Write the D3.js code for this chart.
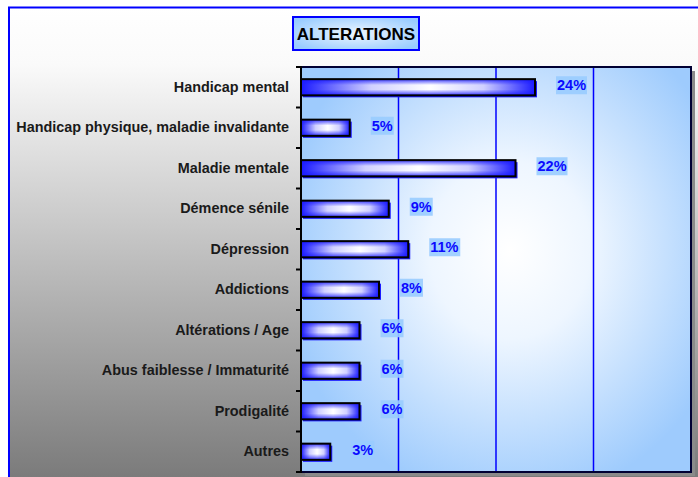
<!DOCTYPE html>
<html>
<head>
<meta charset="utf-8">
<script src="https://cdn.jsdelivr.net/npm/d3@7"></script>
<style>
  html, body { margin: 0; padding: 0; background: #ffffff; }
  svg { display: block; font-family: Arial, "Liberation Sans", sans-serif; }
</style>
</head>
<body>
<svg id="chart" width="698" height="477"></svg>
<script>
// Répartition des altérations (en %)
const categories = [
  "Handicap mental",
  "Handicap physique, maladie invalidante",
  "Maladie mentale",
  "Démence sénile",
  "Dépression",
  "Addictions",
  "Altérations / Age",
  "Abus faiblesse / Immaturité",
  "Prodigalité",
  "Autres"
];
const values = [24, 5, 22, 9, 11, 8, 6, 6, 6, 3];
const gridTicks = [10, 20, 30];
const chartTitle = "ALTERATIONS";

const svg = d3.select("#chart");
const W = 698, H = 477;
const plot = { left: 301, top: 67, right: 691, bottom: 472 };

const defs = svg.append("defs");

// outer background: white at top fading to grey at the bottom
const bgGrad = defs.append("linearGradient").attr("id", "bgGrad")
  .attr("x1", 0).attr("y1", 0).attr("x2", 0).attr("y2", 1);
bgGrad.append("stop").attr("offset", 0).attr("stop-color", "#ffffff");
bgGrad.append("stop").attr("offset", 0.12).attr("stop-color", "#fafafa");
bgGrad.append("stop").attr("offset", 1).attr("stop-color", "#7b7b7b");

// plot area: light blue with a soft white glow
const plotGrad = defs.append("radialGradient").attr("id", "plotGrad")
  .attr("gradientUnits", "userSpaceOnUse")
  .attr("cx", 510).attr("cy", 250).attr("r", 230)
  .attr("gradientTransform", "translate(510,250) scale(1,1.1) translate(-510,-250)");
plotGrad.append("stop").attr("offset", 0).attr("stop-color", "#ffffff");
plotGrad.append("stop").attr("offset", 0.35).attr("stop-color", "#eef6ff");
plotGrad.append("stop").attr("offset", 1).attr("stop-color", "#9ecbfd");

// title box fill
const titleGrad = defs.append("radialGradient").attr("id", "titleGrad")
  .attr("cx", 0.5).attr("cy", 0.5).attr("r", 0.6);
titleGrad.append("stop").attr("offset", 0).attr("stop-color", "#eef6ff");
titleGrad.append("stop").attr("offset", 1).attr("stop-color", "#99ccff");

// bar fills: blue edges, bright centre
const barH = defs.append("linearGradient").attr("id", "barH")
  .attr("x1", 0).attr("y1", 0).attr("x2", 1).attr("y2", 0);
barH.append("stop").attr("offset", 0).attr("stop-color", "#1a1aff");
barH.append("stop").attr("offset", 0.3).attr("stop-color", "#d0d0ff");
barH.append("stop").attr("offset", 0.55).attr("stop-color", "#ffffff");
barH.append("stop").attr("offset", 0.78).attr("stop-color", "#d0d0ff");
barH.append("stop").attr("offset", 1).attr("stop-color", "#1a1aff");
const barV = defs.append("linearGradient").attr("id", "barV")
  .attr("x1", 0).attr("y1", 0).attr("x2", 0).attr("y2", 1);
barV.append("stop").attr("offset", 0).attr("stop-color", "#1a1aff").attr("stop-opacity", 0.85);
barV.append("stop").attr("offset", 0.36).attr("stop-color", "#1a1aff").attr("stop-opacity", 0);
barV.append("stop").attr("offset", 0.64).attr("stop-color", "#1a1aff").attr("stop-opacity", 0);
barV.append("stop").attr("offset", 1).attr("stop-color", "#1a1aff").attr("stop-opacity", 0.85);

// outer frame
svg.append("rect").attr("x", 9).attr("y", 8).attr("width", W - 9).attr("height", H - 8)
  .attr("fill", "url(#bgGrad)");
svg.append("line").attr("x1", 9).attr("x2", 9).attr("y1", 7).attr("y2", H)
  .attr("stroke", "#0000ff").attr("stroke-width", 2);
svg.append("line").attr("x1", 8).attr("x2", W).attr("y1", 7.5).attr("y2", 7.5)
  .attr("stroke", "#0000ff").attr("stroke-width", 2);

// scales
const x = d3.scaleLinear().domain([0, 40]).range([plot.left, plot.right]);
const y = d3.scaleBand().domain(categories)
  .range([plot.top, plot.bottom]).paddingInner(0.6).paddingOuter(0.3);

// plot shadow and background
svg.append("rect").attr("x", plot.left + 4).attr("y", plot.top + 4)
  .attr("width", plot.right - plot.left).attr("height", plot.bottom - plot.top)
  .attr("fill", "#8a8a8a");
svg.append("rect").attr("x", plot.left).attr("y", plot.top)
  .attr("width", plot.right - plot.left).attr("height", plot.bottom - plot.top)
  .attr("fill", "url(#plotGrad)");

// vertical gridlines
svg.append("g").selectAll("line").data(gridTicks).join("line")
  .attr("x1", d => x(d)).attr("x2", d => x(d))
  .attr("y1", plot.top).attr("y2", plot.bottom)
  .attr("stroke", "#0000ff").attr("stroke-width", 1.5);

// bars: shadow, gradient fill, outline
const bars = svg.append("g").selectAll("g").data(categories).join("g");
bars.append("rect")
  .attr("x", x(0) + 2).attr("y", d => y(d) + 2)
  .attr("width", (d, i) => x(values[i]) - x(0)).attr("height", y.bandwidth())
  .attr("fill", "#1a1aff");
bars.append("rect")
  .attr("x", x(0)).attr("y", d => y(d))
  .attr("width", (d, i) => x(values[i]) - x(0)).attr("height", y.bandwidth())
  .attr("fill", "url(#barH)");
bars.append("rect")
  .attr("x", x(0)).attr("y", d => y(d))
  .attr("width", (d, i) => x(values[i]) - x(0)).attr("height", y.bandwidth())
  .attr("fill", "url(#barV)")
  .attr("stroke", "#000000").attr("stroke-width", 2);

// value labels with light blue boxes
const labels = svg.append("g").selectAll("g").data(categories).join("g")
  .attr("transform", (d, i) => `translate(${x(values[i]) + 22},${y(d) + y.bandwidth() / 2 - 2})`);
labels.append("rect")
  .attr("x", -1).attr("y", -9)
  .attr("width", (d, i) => values[i] >= 10 ? 31 : 23).attr("height", 18)
  .attr("fill", "#99ccff").attr("opacity", 0.9);
labels.append("text")
  .attr("x", 0).attr("y", 0).attr("dy", "0.36em")
  .attr("font-size", 14.5).attr("font-weight", "bold").attr("fill", "#0a0aff")
  .text((d, i) => values[i] + "%");

// category axis
const yAxis = d3.axisLeft(y).tickSize(0).tickPadding(12);
const ag = svg.append("g").attr("transform", `translate(${plot.left},0)`).call(yAxis);
ag.select(".domain").remove();
ag.selectAll("text").attr("font-size", 14.4).attr("font-weight", "bold")
  .attr("fill", "#1a1a1a").attr("font-family", "Arial, 'Liberation Sans', sans-serif");

// separator ticks between categories
const bounds = d3.range(categories.length + 1).map(i => plot.top + i * y.step());
svg.append("g").selectAll("line").data(bounds).join("line")
  .attr("x1", plot.left - 5).attr("x2", plot.left)
  .attr("y1", d => d).attr("y2", d => d)
  .attr("stroke", "#000000").attr("stroke-width", 2);

// plot frame
svg.append("path")
  .attr("d", `M${plot.left},${plot.top}H${plot.right}V${plot.bottom}H${plot.left}`)
  .attr("fill", "none").attr("stroke", "#000033").attr("stroke-width", 2);
svg.append("line").attr("x1", plot.left).attr("x2", plot.left)
  .attr("y1", plot.top - 1).attr("y2", plot.bottom + 1)
  .attr("stroke", "#000000").attr("stroke-width", 2);

// title box
const tg = svg.append("g");
tg.append("rect").attr("x", 293).attr("y", 17).attr("width", 126).attr("height", 33)
  .attr("fill", "url(#titleGrad)").attr("stroke", "#0000ff").attr("stroke-width", 2);
tg.append("text").attr("x", 356).attr("y", 39.5).attr("text-anchor", "middle")
  .attr("font-size", 17).attr("font-weight", "bold").attr("fill", "#000000")
  .text(chartTitle);
</script>
</body>
</html>
